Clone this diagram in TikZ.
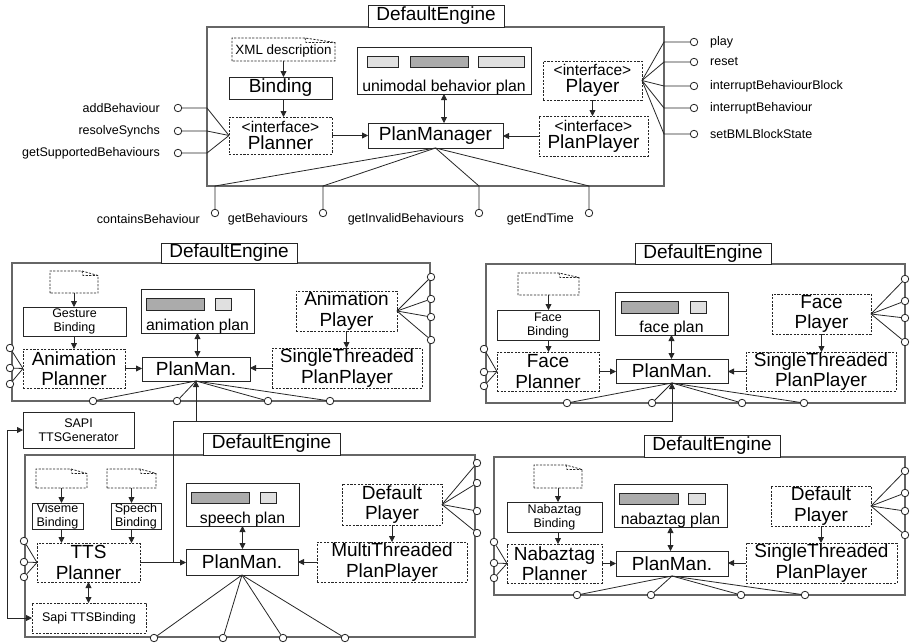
\documentclass[tikz,border=0pt]{standalone}
\usepackage{fontspec}
\setmainfont{Liberation Sans}
\usetikzlibrary{arrows.meta}
\newcommand\fsz[2]{\fontsize{#1}{#2}\selectfont}
\newcommand\bxR[6]{\node[#1,anchor=north west,inner sep=0pt,outer sep=0pt,minimum width=#4pt-#2pt,minimum height=#5pt-#3pt] (#6) at (#2,#3) {};}
\newcommand\bxT[3]{\node[#1] (#2t) at (#2.center) {#3};}
\newcommand\bxDoc[6]{\bxR{draw=none}{#1}{#2}{#3}{#4}{#6}
 \draw[dbox] (#1,#4) -- (#1,#2) -- (#3-#5,#2) -- (#3,#2+4.5) -- (#3,#4) -- cycle;
 \draw[dbox] (#3-#5,#2) -- (#3-#5+1,#2+4.5) -- (#3,#2+4.5);}
\tikzset{
 sbox/.style={draw=black!85, line width=0.8pt},
 dbox/.style={draw=black!85, line width=0.8pt, dash pattern=on 2.2pt off 1.4pt},
 engine/.style={draw=black!60, line width=1.4pt},
 tbox/.style={draw=black!85, line width=0.9pt, fill=white},
 big/.style={font=\fsz{19}{20.5}, align=center, inner sep=0pt},
 med/.style={font=\fsz{15.8}{17}, inner sep=0pt},
 small/.style={font=\fsz{12.5}{14}, align=center, inner sep=0pt},
 lab/.style={font=\fsz{12.5}{14}, inner sep=0pt},
 iface/.style={font=\fsz{15.5}{17}, align=center, inner sep=0pt},
 conn/.style={draw=black!85, line width=0.8pt},
 arr/.style={conn, -{Triangle[length=6pt,width=6pt]}},
 darr/.style={conn, {Triangle[length=6pt,width=6pt]}-{Triangle[length=6pt,width=6pt]}},
 lolly/.style={circle, draw=black!85, fill=white, line width=0.8pt, minimum size=7.5pt, inner sep=0pt},
 dkr/.style={draw=black!85, fill=black!33, line width=0.6pt},
 ltr/.style={draw=black!85, fill=black!12, line width=0.6pt},
}
\begin{document}
\begin{tikzpicture}[x=1pt,y=-1pt]
\useasboundingbox (0,0) rectangle (911,643);

% ================= top engine
\bxR{engine}{207}{27}{664}{186}{E0}
\bxR{tbox}{368}{5}{504}{27}{T0} \bxT{big}{T0}{DefaultEngine}
\bxDoc{232}{38}{335}{61}{30}{D0}
\node[inner sep=0pt,font=\fsz{13.4}{15}] (D0t) at (283.5,51) {XML description};
\bxR{sbox}{229}{77}{332}{99}{B0} \bxT{big}{B0}{Binding}
\bxR{dbox}{229}{117}{332}{154}{P0} \bxT{iface}{P0}{<interface>\\\fsz{19}{22}Planner}
\bxR{sbox}{357}{47}{531}{94}{U0}
\draw[ltr] (367,56) rectangle (398,67);
\draw[dkr] (410,56) rectangle (468,67);
\draw[ltr] (478,56) rectangle (524,67);
\node[med,anchor=base] (U0t) at (444,91) {unimodal behavior plan};
\bxR{sbox}{368}{123}{503}{148}{M0} \bxT{big}{M0}{PlanManager}
\bxR{dbox}{543}{61}{642}{100}{Y0} \bxT{iface}{Y0}{<interface>\\\fsz{19}{22}Player}
\bxR{dbox}{539}{116}{648}{156}{Q0} \bxT{iface}{Q0}{<interface>\\\fsz{19}{22}PlanPlayer}
\draw[arr] (D0.south) -- (D0.south |- B0.north);
\draw[arr] (B0.south -| D0.south) -- (D0.south |- P0.north);
\draw[arr] (P0.east) -- (M0.west);
\draw[darr] (U0.south) -- (U0.south |- M0.north);
\draw[arr] (Q0.west) -- (Q0.west -| M0.east);
\draw[arr] (Y0.south) -- (Y0.south |- Q0.north);
\foreach \y/\t [count=\i] in {108/addBehaviour,131/resolveSynchs,153/getSupportedBehaviours} {
 \node[lolly] (tl\i) at (178,\y) {};
 \draw[conn] (P0.west) -- (207,\y) -- (tl\i);
 \node[lab,anchor=east] (tlt\i) at (160,\y) {\t};
}
\foreach \y/\t [count=\i] in {42/play,62/reset,86/interruptBehaviourBlock,108/interruptBehaviour,134/setBMLBlockState} {
 \node[lolly] (tr\i) at (694,\y) {};
 \draw[conn] (Y0.east) -- (664,\y) -- (tr\i);
 \node[lab,anchor=west] (trt\i) at (710,\y) {\t};
}
\foreach \x/\t [count=\i] in {215/containsBehaviour,323/getBehaviours,479/getInvalidBehaviours,589/getEndTime} {
 \node[lolly] (tb\i) at (\x,213) {};
 \draw[conn] (M0.south) -- (\x,186) -- (tb\i);
 \node[lab,anchor=east] (tbt\i) at (\x-15,219) {\t};
}

% ================= middle-left engine (animation)
\bxR{engine}{12}{263}{430}{401}{E1}
\bxR{tbox}{161}{243}{297}{263}{T1} \bxT{big}{T1}{DefaultEngine}
\bxDoc{50}{271}{98}{293}{16}{D1}
\bxR{sbox}{23}{307}{126}{336}{B1} \bxT{small}{B1}{Gesture\\Binding}
\bxR{dbox}{23}{349}{125}{388}{P1} \bxT{big}{P1}{Animation\\Planner}
\bxR{sbox}{141}{289}{254}{333}{U1}
\draw[dkr] (146,298) rectangle (204,310);
\draw[ltr] (215,298) rectangle (231,310);
\node[med,anchor=base] (U1t) at (197.5,330) {animation plan};
\bxR{sbox}{142}{357}{250}{381}{M1} \bxT{big}{M1}{PlanMan.}
\bxR{dbox}{296}{291}{397}{331}{Y1} \bxT{big}{Y1}{Animation\\Player}
\bxR{dbox}{272}{348}{422}{388}{Q1} \bxT{big}{Q1}{SingleThreaded\\PlanPlayer}
\draw[arr] (D1.south) -- (D1.south |- B1.north);
\draw[arr] (B1.south -| D1.south) -- (D1.south |- P1.north);
\draw[arr] (P1.east) -- (P1.east -| M1.west);
\draw[darr] (U1.south) -- (U1.south |- M1.north);
\draw[arr] (Q1.west) -- (Q1.west -| M1.east);
\draw[arr] (Y1.south) -- (Y1.south |- Q1.north);
\foreach \y [count=\i] in {277,299,317,340} {\node[lolly] (ar\i) at (431,\y) {}; \draw[conn] (Y1.east) -- (ar\i);}
\foreach \y [count=\i] in {348,368,384} {\node[lolly] (al\i) at (10,\y) {}; \draw[conn] (P1.west) -- (al\i);}
\foreach \x [count=\i] in {93,177,268,330} {\node[lolly] (ab\i) at (\x,401) {}; \draw[conn] (M1.south) -- (ab\i);}

% ================= middle-right engine (face)
\bxR{engine}{486}{264}{905}{403}{E2}
\bxR{tbox}{635}{243}{771}{264}{T2} \bxT{big}{T2}{DefaultEngine}
\bxDoc{518}{273}{579}{295}{20}{D2}
\bxR{sbox}{497}{310}{599}{340}{B2} \bxT{small}{B2}{Face\\Binding}
\bxR{dbox}{497}{352}{599}{391}{P2} \bxT{big}{P2}{Face\\Planner}
\bxR{sbox}{615}{292}{728}{335}{U2}
\draw[dkr] (621,301) rectangle (678,313);
\draw[ltr] (690,301) rectangle (706,313);
\node[med,anchor=base] (U2t) at (671.5,332) {face plan};
\bxR{sbox}{616}{359}{728}{383}{M2} \bxT{big}{M2}{PlanMan.}
\bxR{dbox}{772}{294}{871}{334}{Y2} \bxT{big}{Y2}{Face\\Player}
\bxR{dbox}{746}{352}{896}{391}{Q2} \bxT{big}{Q2}{SingleThreaded\\PlanPlayer}
\draw[arr] (D2.south) -- (D2.south |- B2.north);
\draw[arr] (B2.south -| D2.south) -- (D2.south |- P2.north);
\draw[arr] (P2.east) -- (P2.east -| M2.west);
\draw[darr] (U2.south) -- (U2.south |- M2.north);
\draw[arr] (Q2.west) -- (Q2.west -| M2.east);
\draw[arr] (Y2.south) -- (Y2.south |- Q2.north);
\foreach \y [count=\i] in {279,301,318,342} {\node[lolly] (fr\i) at (905,\y) {}; \draw[conn] (Y2.east) -- (fr\i);}
\foreach \y [count=\i] in {349,372,386} {\node[lolly] (fl\i) at (484,\y) {}; \draw[conn] (P2.west) -- (fl\i);}
\foreach \x [count=\i] in {567,652,742,804} {\node[lolly] (fb\i) at (\x,403) {}; \draw[conn] (M2.south) -- (fb\i);}

% ================= bottom-left engine (speech)
\bxR{sbox}{23}{412}{134}{448}{S} \bxT{small}{S}{SAPI\\TTSGenerator}
\bxR{engine}{25}{455}{475}{637}{E3}
\bxR{tbox}{203}{433}{340}{455}{T3} \bxT{big}{T3}{DefaultEngine}
\bxDoc{36}{469}{87}{488}{16}{D3a}
\bxDoc{107}{469}{156}{488}{16}{D3b}
\bxR{sbox}{32}{503}{83}{529}{B3a} \bxT{small}{B3a}{Viseme\\Binding}
\bxR{sbox}{111}{503}{161}{529}{B3b} \bxT{small}{B3b}{Speech\\Binding}
\bxR{dbox}{37}{543}{140}{582}{P3} \bxT{big}{P3}{TTS\\Planner}
\bxR{dbox}{32}{603}{146}{633}{SB} \bxT{small}{SB}{Sapi TTSBinding}
\bxR{sbox}{186}{483}{299}{526}{U3}
\draw[dkr] (191,492) rectangle (249,503);
\draw[ltr] (260,492) rectangle (276,503);
\node[med,anchor=base] (U3t) at (242.5,523) {speech plan};
\bxR{sbox}{186}{549}{298}{575}{M3} \bxT{big}{M3}{PlanMan.}
\bxR{dbox}{342}{484}{442}{525}{Y3} \bxT{big}{Y3}{Default\\Player}
\bxR{dbox}{317}{542}{467}{582}{Q3} \bxT{big}{Q3}{MultiThreaded\\PlanPlayer}
\draw[arr] (D3a.south) -- (D3a.south |- B3a.north);
\draw[arr] (B3a.south -| D3a.south) -- (D3a.south |- P3.north);
\draw[arr] (D3b.south) -- (D3b.south |- B3b.north);
\draw[arr] (B3b.south -| D3b.south) -- (D3b.south |- P3.north);
\draw[darr] (P3.south) -- (P3.south |- SB.north);
\draw[arr] (P3.east) -- (P3.east -| M3.west);
\draw[darr] (U3.south) -- (U3.south |- M3.north);
\draw[arr] (Q3.west) -- (Q3.west -| M3.east);
\draw[arr] (Y3.south) -- (Y3.south |- Q3.north);
\draw[darr] (S.west) -- ++(-16,0) |- (SB.west);
\coordinate (J) at (173,562.5);
\coordinate (J2) at (173,421);
\draw[arr] (J) -- (J2) -| (M2.south);
\draw[arr] (M1.south |- J2) -- (M1.south);
\foreach \y [count=\i] in {463,483,511,533} {\node[lolly] (sr\i) at (477,\y) {}; \draw[conn] (Y3.east) -- (sr\i);}
\foreach \y [count=\i] in {541,562,577} {\node[lolly] (sl\i) at (24,\y) {}; \draw[conn] (P3.west) -- (sl\i);}
\foreach \x [count=\i] in {154,223,283,345} {\node[lolly] (sbl\i) at (\x,638) {}; \draw[conn] (M3.south) -- (sbl\i);}

% ================= bottom-right engine (nabaztag)
\bxR{engine}{494}{457}{905}{595}{E4}
\bxR{tbox}{644}{435}{780}{457}{T4} \bxT{big}{T4}{DefaultEngine}
\bxDoc{534}{465}{582}{488}{16}{D4}
\bxR{sbox}{507}{502}{602}{532}{B4} \bxT{small}{B4}{Nabaztag\\Binding}
\bxR{dbox}{507}{544}{602}{583}{P4} \bxT{big}{P4}{Nabaztag\\Planner}
\bxR{sbox}{614}{484}{727}{527}{U4}
\draw[dkr] (619,493) rectangle (678,504);
\draw[ltr] (688,493) rectangle (705,504);
\node[med,anchor=base] (U4t) at (670.5,524) {nabaztag plan};
\bxR{sbox}{616}{551}{728}{576}{M4} \bxT{big}{M4}{PlanMan.}
\bxR{dbox}{771}{486}{871}{526}{Y4} \bxT{big}{Y4}{Default\\Player}
\bxR{dbox}{746}{543}{897}{583}{Q4} \bxT{big}{Q4}{SingleThreaded\\PlanPlayer}
\draw[arr] (D4.south) -- (D4.south |- B4.north);
\draw[arr] (B4.south -| D4.south) -- (D4.south |- P4.north);
\draw[arr] (P4.east) -- (P4.east -| M4.west);
\draw[darr] (U4.south) -- (U4.south |- M4.north);
\draw[arr] (Q4.west) -- (Q4.west -| M4.east);
\draw[arr] (Y4.south) -- (Y4.south |- Q4.north);
\foreach \y [count=\i] in {471,493,511,535} {\node[lolly] (nr\i) at (905,\y) {}; \draw[conn] (Y4.east) -- (nr\i);}
\foreach \y [count=\i] in {542,563,578} {\node[lolly] (nl\i) at (494,\y) {}; \draw[conn] (P4.west) -- (nl\i);}
\foreach \x [count=\i] in {577,651,741,805} {\node[lolly] (nb\i) at (\x,595) {}; \draw[conn] (M4.south) -- (nb\i);}
\end{tikzpicture}
\end{document}
